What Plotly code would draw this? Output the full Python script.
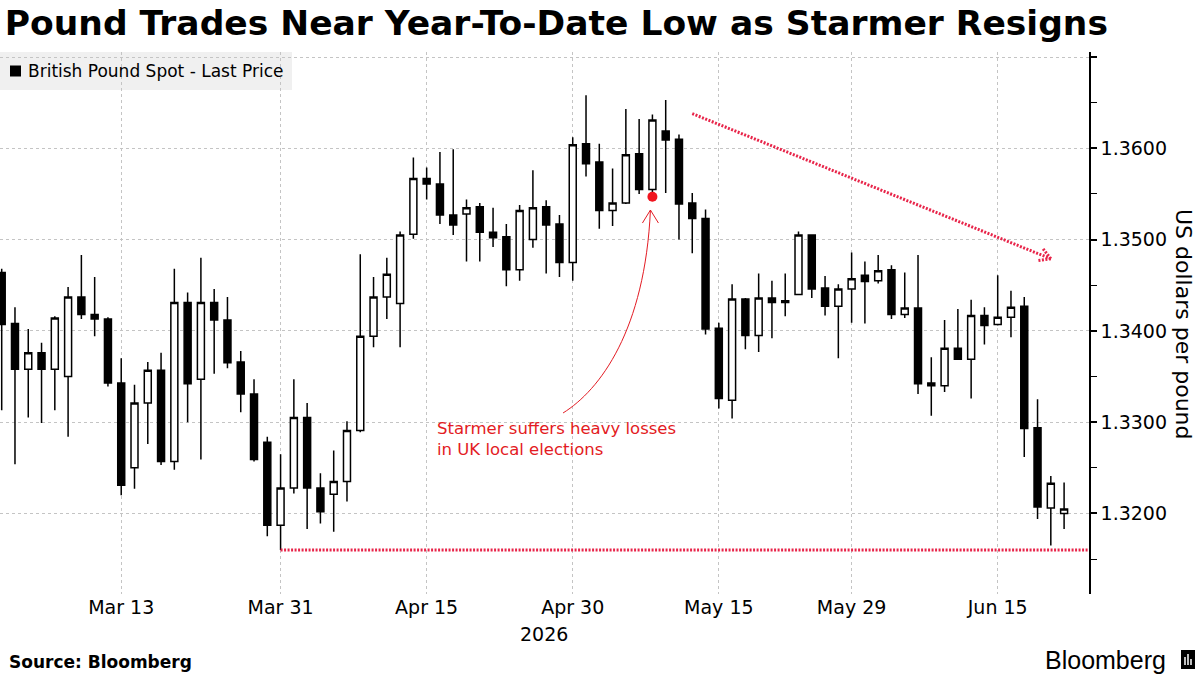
import math
import plotly.graph_objects as go

# ---------------- data ----------------
dates = [
    "2026-03-02", "2026-03-03", "2026-03-04", "2026-03-05", "2026-03-06",
    "2026-03-09", "2026-03-10", "2026-03-11", "2026-03-12", "2026-03-13",
    "2026-03-16", "2026-03-17", "2026-03-18", "2026-03-19", "2026-03-20",
    "2026-03-23", "2026-03-24", "2026-03-25", "2026-03-26", "2026-03-27",
    "2026-03-30", "2026-03-31",
    "2026-04-01", "2026-04-02", "2026-04-03", "2026-04-06", "2026-04-07",
    "2026-04-08", "2026-04-09", "2026-04-10", "2026-04-13", "2026-04-14",
    "2026-04-15", "2026-04-16", "2026-04-17", "2026-04-20", "2026-04-21",
    "2026-04-22", "2026-04-23", "2026-04-24", "2026-04-27", "2026-04-28",
    "2026-04-29", "2026-04-30",
    "2026-05-01", "2026-05-04", "2026-05-05", "2026-05-06", "2026-05-07",
    "2026-05-08", "2026-05-11", "2026-05-12", "2026-05-13", "2026-05-14",
    "2026-05-15", "2026-05-18", "2026-05-19", "2026-05-20", "2026-05-21",
    "2026-05-22", "2026-05-25", "2026-05-26", "2026-05-27", "2026-05-28",
    "2026-05-29",
    "2026-06-01", "2026-06-02", "2026-06-03", "2026-06-04", "2026-06-05",
    "2026-06-08", "2026-06-09", "2026-06-10", "2026-06-11", "2026-06-12",
    "2026-06-15", "2026-06-16", "2026-06-17", "2026-06-18", "2026-06-19",
    "2026-06-22",
]

opens = [
    1.3464, 1.3408, 1.3358, 1.3376, 1.3358, 1.3350, 1.3437, 1.3418, 1.3413, 1.3343,
    1.3250, 1.3321, 1.3357, 1.3257, 1.3431, 1.3347, 1.3431, 1.3412, 1.3366, 1.3331,
    1.3278, 1.3187,
    1.3228, 1.3305, 1.3228, 1.3221, 1.3235, 1.3291, 1.3394, 1.3437, 1.3430, 1.3506,
    1.3567, 1.3561, 1.3527, 1.3528, 1.3536, 1.3508, 1.3503, 1.3467, 1.3500, 1.3536,
    1.3517, 1.3475,
    1.3605, 1.3585, 1.3532, 1.3540, 1.3594, 1.3555, 1.3619, 1.3610, 1.3540, 1.3523,
    1.3403, 1.3324, 1.3435, 1.3395, 1.3436, 1.3431, 1.3440, 1.3505, 1.3447, 1.3427,
    1.3446,
    1.3461, 1.3455, 1.3467, 1.3418, 1.3425, 1.3343, 1.3340, 1.3381, 1.3369, 1.3417,
    1.3407, 1.3415, 1.3427, 1.3294, 1.3206, 1.3200,
]
highs = [
    1.3468, 1.3426, 1.3402, 1.3387, 1.3416, 1.3448, 1.3483, 1.3459, 1.3415, 1.3370,
    1.3341, 1.3366, 1.3376, 1.3468, 1.3442, 1.3480, 1.3446, 1.3437, 1.3378, 1.3347,
    1.3284, 1.3265,
    1.3347, 1.3321, 1.3244, 1.3269, 1.3301, 1.3484, 1.3459, 1.3480, 1.3509, 1.3590,
    1.3579, 1.3596, 1.3599, 1.3544, 1.3540, 1.3535, 1.3517, 1.3538, 1.3576, 1.3543,
    1.3527, 1.3612,
    1.3658, 1.3605, 1.3578, 1.3643, 1.3632, 1.3637, 1.3653, 1.3615, 1.3551, 1.3533,
    1.3409, 1.3451, 1.3436, 1.3463, 1.3455, 1.3463, 1.3509, 1.3506, 1.3460, 1.3451,
    1.3486,
    1.3476, 1.3483, 1.3472, 1.3464, 1.3483, 1.3371, 1.3412, 1.3424, 1.3434, 1.3426,
    1.3461, 1.3444, 1.3437, 1.3325, 1.3241, 1.3234,
]
lows = [
    1.3313, 1.3254, 1.3305, 1.3299, 1.3313, 1.3284, 1.3413, 1.3394, 1.3339, 1.3220,
    1.3227, 1.3276, 1.3253, 1.3248, 1.3300, 1.3259, 1.3353, 1.3359, 1.3311, 1.3257,
    1.3175, 1.3160,
    1.3222, 1.3183, 1.3189, 1.3180, 1.3213, 1.3289, 1.3382, 1.3413, 1.3382, 1.3501,
    1.3544, 1.3517, 1.3505, 1.3476, 1.3476, 1.3492, 1.3449, 1.3455, 1.3491, 1.3463,
    1.3459, 1.3455,
    1.3569, 1.3512, 1.3515, 1.3539, 1.3550, 1.3552, 1.3551, 1.3500, 1.3485, 1.3396,
    1.3315, 1.3304, 1.3380, 1.3377, 1.3392, 1.3416, 1.3440, 1.3436, 1.3417, 1.3370,
    1.3409,
    1.3408, 1.3452, 1.3413, 1.3414, 1.3331, 1.3307, 1.3333, 1.3368, 1.3326, 1.3385,
    1.3406, 1.3393, 1.3262, 1.3194, 1.3165, 1.3183,
]
closes = [
    1.3407, 1.3358, 1.3376, 1.3358, 1.3414, 1.3437, 1.3418, 1.3413, 1.3343, 1.3231,
    1.3321, 1.3357, 1.3257, 1.3431, 1.3342, 1.3431, 1.3412, 1.3365, 1.3331, 1.3259,
    1.3187, 1.3228,
    1.3305, 1.3228, 1.3202, 1.3235, 1.3291, 1.3394, 1.3437, 1.3462, 1.3505, 1.3567,
    1.3561, 1.3527, 1.3516, 1.3535, 1.3508, 1.3502, 1.3467, 1.3532, 1.3535, 1.3516,
    1.3475, 1.3604,
    1.3583, 1.3532, 1.3540, 1.3593, 1.3555, 1.3631, 1.3609, 1.3539, 1.3523, 1.3402,
    1.3326, 1.3435, 1.3395, 1.3436, 1.3431, 1.3433, 1.3505, 1.3446, 1.3427, 1.3446,
    1.3457,
    1.3454, 1.3466, 1.3418, 1.3425, 1.3342, 1.3340, 1.3381, 1.3369, 1.3417, 1.3406,
    1.3415, 1.3426, 1.3293, 1.3207, 1.3233, 1.3205,
]

tick_dates = ["2026-03-13", "2026-03-31", "2026-04-15", "2026-04-30",
              "2026-05-15", "2026-05-29", "2026-06-15"]
tick_labels = ["Mar 13", "Mar 31", "Apr 15", "Apr 30", "May 15", "May 29", "Jun 15"]

y_ticks = [1.32, 1.33, 1.34, 1.35, 1.36, 1.37]
y_tick_labels = ["1.3200", "1.3300", "1.3400", "1.3500", "1.3600", ""]
y_minor_ticks = [1.315, 1.325, 1.335, 1.345, 1.355, 1.365]

ytd_low = 1.3160
ytd_low_date = "2026-03-31"
event_date = "2026-05-08"
event_marker_value = 1.3547
trend_start = ("2026-05-13", 1.3638)
trend_end = ("2026-06-19", 1.3479)

# ---------------- figure ----------------
x = list(range(len(dates)))
idx = {d: i for i, d in enumerate(dates)}

X_RANGE = [-0.128, 81.875]
Y_RANGE = [1.31118, 1.37055]
PLOT_W, PLOT_H = 1089, 542
px_per_x = PLOT_W / (X_RANGE[1] - X_RANGE[0])
px_per_y = PLOT_H / (Y_RANGE[1] - Y_RANGE[0])

RED_TXT = "#e31b23"
RED_DOT = "#e8254a"
FONT = "DejaVu Sans"

fig = go.Figure()
fig.add_trace(go.Candlestick(
    x=x, open=opens, high=highs, low=lows, close=closes,
    increasing=dict(line=dict(color="black", width=1.5), fillcolor="white"),
    decreasing=dict(line=dict(color="black", width=1.5), fillcolor="black"),
    whiskerwidth=0, showlegend=False, hoverinfo="skip",
))
fig.add_trace(go.Scatter(
    x=[idx[event_date]], y=[event_marker_value], mode="markers",
    marker=dict(color="#f0141e", size=10), showlegend=False, hoverinfo="skip",
))

DOTS = dict(color=RED_DOT, width=3, dash="2px,1.5px")
shapes = []
# legend background + swatch
shapes.append(dict(type="rect", xref="paper", yref="paper", x0=0, x1=292 / PLOT_W,
                   y0=1 - 38 / PLOT_H, y1=1, fillcolor="#f0f0f0", line=dict(width=0),
                   layer="below"))
shapes.append(dict(type="rect", xref="paper", yref="paper", x0=10 / PLOT_W, x1=21 / PLOT_W,
                   y0=1 - 24.5 / PLOT_H, y1=1 - 13.5 / PLOT_H, fillcolor="black",
                   line=dict(width=0)))
# YTD low dotted line
shapes.append(dict(type="line", xref="x", yref="y", x0=idx[ytd_low_date], x1=X_RANGE[1],
                   y0=ytd_low, y1=ytd_low, line=DOTS))
# trend dotted arrow
tx0, ty0 = float(idx[trend_start[0]]), trend_start[1]
tx1, ty1 = float(idx[trend_end[0]]), trend_end[1]
shapes.append(dict(type="line", xref="x", yref="y", x0=tx0, x1=tx1, y0=ty0, y1=ty1, line=DOTS))
dxp = (tx1 - tx0) * px_per_x
dyp = -(ty1 - ty0) * px_per_y  # screen coords (down positive)
ln = math.hypot(dxp, dyp)
ux, uy = -dxp / ln, -dyp / ln
for ang in (30, -30):
    a = math.radians(ang)
    rx = ux * math.cos(a) - uy * math.sin(a)
    ry = ux * math.sin(a) + uy * math.cos(a)
    shapes.append(dict(type="line", xref="x", yref="y", x0=tx1, y0=ty1,
                       x1=tx1 + rx * 14 / px_per_x, y1=ty1 - ry * 14 / px_per_y, line=DOTS))
# curved annotation arrow
cx0, cy0 = 42.27, 1.33101
c1x, c1y = 45.06, 1.33353
c2x, c2y = 48.44, 1.34010
tipx, tipy = 48.85, 1.35324
shapes.append(dict(type="path", xref="x", yref="y",
                   path=f"M {cx0},{cy0} C {c1x},{c1y} {c2x},{c2y} {tipx},{tipy}",
                   line=dict(color=RED_TXT, width=1)))
shapes.append(dict(type="path", xref="x", yref="y",
                   path=f"M {tipx - 8 / px_per_x},{tipy - 13 / px_per_y} L {tipx},{tipy} "
                        f"L {tipx + 8 / px_per_x},{tipy - 13 / px_per_y}",
                   line=dict(color=RED_TXT, width=1)))
# Bloomberg icon
shapes.append(dict(type="rect", xref="paper", yref="paper", x0=1181 / PLOT_W, x1=1195 / PLOT_W,
                   y0=(594 - 669) / PLOT_H, y1=(594 - 650) / PLOT_H, fillcolor="black",
                   line=dict(width=0)))
for bx, btop in ((1185, 657), (1188, 654), (1191, 659)):
    shapes.append(dict(type="line", xref="paper", yref="paper",
                       x0=bx / PLOT_W, x1=bx / PLOT_W,
                       y0=(594 - 665) / PLOT_H, y1=(594 - btop) / PLOT_H,
                       line=dict(color="white", width=1.5)))

annotations = [
    dict(text="British Pound Spot - Last Price", xref="paper", yref="paper",
         x=26 / PLOT_W, y=1 - 19 / PLOT_H, xanchor="left", yanchor="middle",
         showarrow=False, font=dict(family=FONT, size=17, color="black")),
    dict(text="Starmer suffers heavy losses<br>in UK local elections", xref="x", yref="y",
         x=32.63, y=1.32817, xanchor="left", yanchor="middle", align="left",
         showarrow=False, font=dict(family=FONT, size=16.5, color=RED_TXT)),
    dict(text="2026", xref="x", yref="paper", x=40.8, y=-40 / PLOT_H,
         xanchor="center", yanchor="middle", showarrow=False,
         font=dict(family=FONT, size=19, color="black")),
    dict(text="US dollars per pound", xref="paper", yref="paper", x=1184 / PLOT_W,
         y=(594 - 324) / PLOT_H, xanchor="center", yanchor="middle", textangle=90,
         showarrow=False, font=dict(family=FONT, size=22, color="black")),
    dict(text="Source: Bloomberg", xref="paper", yref="paper", x=7 / PLOT_W,
         y=(594 - 662) / PLOT_H, xanchor="left", yanchor="middle", showarrow=False,
         font=dict(family=FONT, size=17, color="black", weight="bold")),
    dict(text="Bloomberg", xref="paper", yref="paper", x=1168 / PLOT_W,
         y=(594 - 660) / PLOT_H, xanchor="right", yanchor="middle", showarrow=False,
         font=dict(family="Liberation Sans", size=25, color="black", weight=500)),
]

fig.update_layout(
    width=1200, height=675,
    margin=dict(l=0, r=111, t=52, b=81),
    paper_bgcolor="white", plot_bgcolor="white",
    boxgap=0.25,
    title=dict(text="Pound Trades Near Year-To-Date Low as Starmer Resigns",
               x=0.004, xanchor="left", xref="container",
               y=1 - 23 / 675, yanchor="middle", yref="container",
               font=dict(family=FONT, size=34.5, color="black", weight="bold")),
    shapes=shapes, annotations=annotations, hovermode=False,
    xaxis=dict(range=X_RANGE, tickmode="array",
               tickvals=[idx[d] for d in tick_dates], ticktext=tick_labels,
               showgrid=True, gridcolor="#c4c4c4", griddash="dot", gridwidth=1,
               zeroline=False, showline=False, ticks="",
               tickfont=dict(family=FONT, size=19, color="black"),
               rangeslider=dict(visible=False), fixedrange=True),
    yaxis=dict(range=Y_RANGE, side="right", tickmode="array",
               tickvals=y_ticks, ticktext=y_tick_labels,
               showgrid=True, gridcolor="#c4c4c4", griddash="dot", gridwidth=1,
               zeroline=False, showline=True, linecolor="black", linewidth=1.5,
               ticks="outside", ticklen=6, tickwidth=2, tickcolor="black",
               minor=dict(tickmode="array", tickvals=y_minor_ticks, ticks="outside",
                          ticklen=6, tickwidth=1, tickcolor="black", showgrid=False),
               tickfont=dict(family=FONT, size=19, color="black"), fixedrange=True),
)

fig.write_html("out.html")
